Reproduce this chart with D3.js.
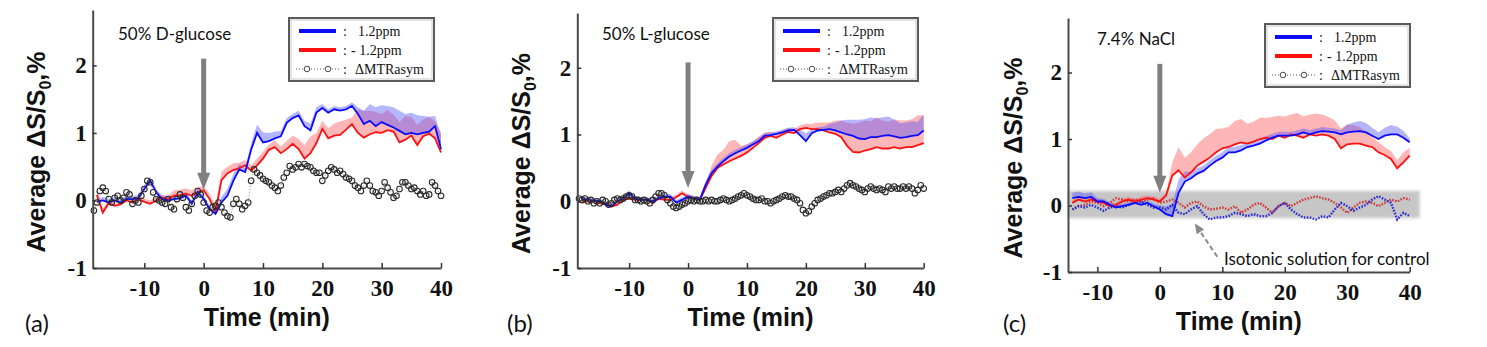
<!DOCTYPE html>
<html>
<head>
<meta charset="utf-8">
<script src="https://cdn.jsdelivr.net/npm/d3@7"></script>
<style>
  body { margin: 0; background: #fff; }
  svg { display: block; }
</style>
</head>
<body>
<svg id="chart"></svg>
<script>
// sampling grids (minutes)
const minutesAB = d3.range(-18, 41);
const minutesC = d3.range(-14, 41);
const circleMinutes = d3.range(-18.5, 40.5, 0.5);

const xTicks = [-10, 0, 10, 20, 30, 40];
const yTicks = [-1, 0, 1, 2];

// (a) 50% D-glucose
const dGlucPos = [-0.02, 0.0, -0.03, 0.0, -0.03, 0.02, 0.02, 0.03, 0.17, 0.29,
  0.12, 0.02, 0.0, 0.02, 0.03, 0.07, -0.05, 0.12, 0.02, -0.13,
  -0.2, -0.03, 0.07, 0.29, 0.46, 0.42, 0.75, 1.0, 0.86, 0.88,
  0.92, 0.95, 1.15, 1.22, 1.26, 1.1, 1.04, 1.3, 1.37, 1.3,
  1.35, 1.33, 1.35, 1.4, 1.28, 1.13, 1.18, 1.1, 1.16, 1.12,
  1.08, 1.03, 0.98, 1.0, 0.98, 1.0, 1.02, 1.1, 0.76];
const dGlucPosErr = [0.05, 0.05, 0.05, 0.05, 0.05, 0.05, 0.05, 0.05, 0.06, 0.06,
  0.05, 0.05, 0.05, 0.05, 0.05, 0.05, 0.05, 0.06,
  0.06, 0.05, 0.06, 0.08, 0.1, 0.1, 0.08, 0.06,
  0.1, 0.12, 0.15, 0.12, 0.1,
  0.08, 0.07, 0.06, 0.07, 0.08, 0.1, 0.08,
  0.06, 0.05, 0.05, 0.05, 0.05, 0.05,
  0.1, 0.2, 0.25, 0.28, 0.25, 0.28, 0.3, 0.3, 0.3, 0.3, 0.28, 0.25, 0.22, 0.15, 0.2];
const dGlucNeg = [0.08, -0.18, -0.04, -0.08, -0.06, 0.0, -0.03, 0.02, -0.02, -0.05,
  0.0, 0.04, 0.02, 0.07, 0.08, 0.1, 0.07, 0.12, 0.15, 0.02,
  -0.17, 0.3, 0.4, 0.45, 0.48, 0.52, 0.44, 0.52, 0.62, 0.75,
  0.79, 0.7, 0.76, 0.84, 0.76, 0.62, 0.7, 0.85, 1.06, 0.92,
  0.96, 0.97, 1.05, 1.13, 1.0, 0.93, 0.98, 1.01, 1.0, 1.04,
  1.02, 0.86, 0.9, 0.96, 0.82, 0.95, 0.99, 0.92, 0.71];
const dGlucNegErr = [0.08, 0.06, 0.05, 0.05, 0.05, 0.05, 0.05, 0.05, 0.05, 0.05,
  0.05, 0.05, 0.05, 0.08, 0.08, 0.08, 0.08, 0.08,
  0.06, 0.08, 0.1, 0.12, 0.1, 0.1, 0.08, 0.08,
  0.08, 0.1, 0.1, 0.08, 0.1,
  0.1, 0.12, 0.12, 0.15, 0.2, 0.25, 0.15,
  0.12, 0.15, 0.18, 0.2, 0.15, 0.1,
  0.35, 0.4, 0.35, 0.3, 0.28, 0.3, 0.25, 0.3, 0.35, 0.28, 0.3, 0.25, 0.25, 0.25, 0.3];
const dGlucAsym = [-0.15, -0.03, 0.14, 0.19, 0.14, 0.02, -0.03, 0.04, 0.07, 0,
  0.04, 0.12, 0.09, -0.05, 0, -0.03, 0.07, 0.17, 0.29, 0.27,
  0.12, 0.02, 0, -0.03, -0.05, 0.02, -0.1, -0.13, 0.02, 0.09,
  0.04, -0.1, -0.15, -0.05, 0.07, 0.14, 0.09, -0.03, -0.15, -0.18,
  -0.1, -0.08, -0.03, -0.1, -0.18, -0.23, -0.25, -0.05, 0.02, -0.05,
  -0.13, -0.08, -0.03, 0.29, 0.46, 0.41, 0.37, 0.32, 0.29, 0.27,
  0.22, 0.19, 0.14, 0.22, 0.34, 0.41, 0.51, 0.46, 0.49, 0.54,
  0.49, 0.54, 0.51, 0.49, 0.44, 0.41, 0.41, 0.29, 0.37, 0.44,
  0.49, 0.46, 0.41, 0.44, 0.39, 0.34, 0.32, 0.29, 0.22, 0.19,
  0.14, 0.22, 0.29, 0.22, 0.14, 0.12, 0.07, 0.14, 0.27, 0.19,
  0.12, 0.04, 0.07, 0.17, 0.27, 0.27, 0.22, 0.17, 0.19, 0.14,
  0.09, 0.14, 0.07, 0.09, 0.27, 0.22, 0.14, 0.07];

// (b) 50% L-glucose
const lGlucPos = [0.03, 0.02, 0.01, 0, -0.05, -0.08, 0, 0.04, 0.12, 0.04,
  0.02, 0.02, 0, 0.04, 0.07, 0.07, -0.02, 0.02, 0.07, 0.04,
  0.02, 0.25, 0.42, 0.52, 0.6, 0.67, 0.72, 0.76, 0.8, 0.85,
  0.9, 0.98, 0.99, 1.01, 1.03, 1.06, 1.07, 0.99, 0.9, 1.02,
  1.06, 1.07, 1.08, 1.06, 1.03, 1.0, 0.98, 0.94, 0.93, 0.96,
  0.96, 0.98, 0.99, 0.97, 0.95, 0.96, 0.98, 0.99, 1.06];
const lGlucPosErr = [0.04, 0.04, 0.04, 0.04, 0.04, 0.04, 0.04, 0.04, 0.04, 0.04,
  0.04, 0.04, 0.04, 0.04, 0.04, 0.04, 0.04, 0.04, 0.04, 0.04, 0.04,
  0.05, 0.05, 0.05, 0.05, 0.05, 0.05, 0.05, 0.05, 0.05, 0.05,
  0.04, 0.04, 0.04, 0.04, 0.04, 0.04,
  0.08, 0.12, 0.06, 0.05, 0.05, 0.08, 0.12,
  0.18, 0.22, 0.24, 0.28, 0.3, 0.3, 0.28, 0.28, 0.28, 0.25, 0.22, 0.22, 0.22, 0.2, 0.24];
const lGlucNeg = [-0.02, 0, 0, -0.03, -0.05, -0.08, -0.05, 0.02, 0.04, 0.02,
  0.02, 0.02, -0.03, 0.04, 0.02, 0.02, 0.06, 0.12, 0.06, 0.04,
  0.02, 0.2, 0.38, 0.5, 0.55, 0.6, 0.64, 0.68, 0.73, 0.8,
  0.87, 0.95, 0.98, 0.95, 1.0, 1.04, 1.02, 1.08, 1.1, 1.08,
  1.08, 1.06, 1.03, 1.01, 0.96, 0.83, 0.74, 0.73, 0.76, 0.78,
  0.81, 0.79, 0.79, 0.81, 0.79, 0.81, 0.81, 0.84, 0.87];
const lGlucNegErr = [0.04, 0.04, 0.04, 0.04, 0.04, 0.04, 0.04, 0.04, 0.04, 0.04,
  0.04, 0.04, 0.04, 0.04, 0.04, 0.04, 0.04, 0.04, 0.04, 0.04, 0.04,
  0.08, 0.15, 0.2, 0.22, 0.3, 0.28, 0.15, 0.12, 0.1, 0.1, 0.08,
  0.06, 0.06, 0.06, 0.06, 0.06,
  0.06, 0.06, 0.08, 0.1, 0.12, 0.15, 0.2,
  0.25, 0.35, 0.42, 0.45, 0.45, 0.42, 0.45, 0.42, 0.4, 0.42, 0.42, 0.4, 0.42, 0.45, 0.42];
const lGlucAsym = [0.04, 0.02, 0.04, 0, 0.02, -0.03, 0, -0.03, 0.02, 0,
  -0.05, -0.03, 0.02, 0.04, 0.02, 0.04, 0.07, 0.09, 0.07, 0.02,
  0.02, 0, 0.02, 0, -0.03, 0.02, 0.07, 0.12, 0.12, 0.09,
  0.02, -0.03, -0.08, -0.1, -0.08, -0.05, -0.03, 0, 0.02, 0,
  0.02, 0, 0, 0.02, 0, 0.02, 0, 0, 0.02, 0.04,
  0.02, 0, 0.02, 0.04, 0.07, 0.09, 0.12, 0.09, 0.07, 0.04,
  0.02, 0.02, 0.04, 0, 0, -0.03, 0, 0.02, 0.04, 0.07,
  0.09, 0.07, 0.07, 0.04, 0.02, -0.03, -0.13, -0.18, -0.15, -0.08,
  -0.03, 0.02, 0.04, 0.07, 0.09, 0.12, 0.12, 0.14, 0.17, 0.14,
  0.19, 0.24, 0.27, 0.24, 0.22, 0.19, 0.17, 0.14, 0.19, 0.22,
  0.19, 0.17, 0.19, 0.17, 0.14, 0.22, 0.19, 0.22, 0.19, 0.19,
  0.22, 0.19, 0.22, 0.19, 0.12, 0.17, 0.24, 0.19];

// (c) 7.4% NaCl, with isotonic control (dotted)
const naclPos = [0.11, 0.13, 0.11, 0.13, 0.06, 0.06, 0.01, -0.03, -0.01, 0.01,
  0.04, 0.01, 0.04, -0.01, -0.06, -0.13, -0.16, 0.19, 0.36, 0.41,
  0.48, 0.52, 0.6, 0.67, 0.72, 0.8, 0.8, 0.83, 0.88, 0.9,
  0.93, 0.98, 1.02, 1.05, 1.05, 1.05, 1.07, 1.1, 1.07, 1.1,
  1.12, 1.11, 1.1, 1.07, 1.1, 1.11, 1.12, 1.1, 1.05, 1.0,
  1.05, 1.07, 1.07, 1.02, 0.95];
const naclPosErr = [0.08, 0.08, 0.07, 0.07, 0.05,
  0.04, 0.04, 0.04, 0.04, 0.04, 0.04, 0.04, 0.04, 0.04,
  0.06, 0.12, 0.18, 0.2, 0.15, 0.1,
  0.08, 0.08, 0.08, 0.08, 0.08, 0.08, 0.08, 0.08,
  0.06, 0.06, 0.06, 0.06, 0.06, 0.06, 0.06, 0.06, 0.06, 0.06, 0.06, 0.06, 0.06, 0.06, 0.06, 0.06,
  0.12, 0.14, 0.15, 0.14, 0.12, 0.1, 0.12, 0.14, 0.12, 0.1, 0.06];
const naclNeg = [0.04, 0.09, 0.06, 0.09, 0.06, 0.04, -0.01, 0.01, 0.06, 0.09,
  0.06, 0.09, 0.11, 0.09, 0.06, 0.15, 0.45, 0.53, 0.42, 0.5,
  0.6, 0.66, 0.72, 0.8, 0.86, 0.88, 0.92, 0.95, 0.93, 0.96,
  1.0, 1.02, 1.0, 1.05, 1.02, 1.07, 1.05, 1.02, 1.07, 1.05,
  1.07, 1.05, 1.0, 0.86, 0.92, 0.93, 0.93, 0.9, 0.88, 0.8,
  0.76, 0.7, 0.56, 0.65, 0.75];
const naclNegErr = [0.04, 0.04, 0.04, 0.04, 0.04, 0.04, 0.04, 0.04, 0.04, 0.04, 0.04, 0.04, 0.04, 0.04, 0.04, 0.04,
  0.2, 0.35, 0.3, 0.3, 0.32, 0.35, 0.35, 0.35, 0.3, 0.3, 0.35, 0.35, 0.3,
  0.3, 0.32, 0.3, 0.33, 0.3, 0.32, 0.3, 0.34, 0.32, 0.3, 0.33, 0.3, 0.28,
  0.28, 0.3, 0.3, 0.28, 0.25, 0.2, 0.15, 0.15, 0.12, 0.12, 0.12, 0.15, 0.12];
const isoPos = [-0.06, -0.01, -0.03, 0.01, -0.03, -0.08, -0.03, -0.01, -0.03, 0.01,
  0.04, 0.06, 0.01, -0.03, -0.03, -0.06, 0.01, -0.11, -0.13, -0.06,
  -0.01, -0.13, -0.21, -0.18, -0.18, -0.16, -0.11, -0.13, -0.16, -0.13,
  -0.16, -0.16, -0.11, -0.01, 0.04, -0.06, -0.13, -0.18, -0.18, -0.21,
  -0.16, -0.18, -0.06, 0.04, -0.01, -0.08, -0.03, 0.01, 0.09, 0.14,
  0.09, 0.04, -0.21, -0.11, -0.16];
const isoNeg = [-0.06, -0.01, 0.01, 0.06, 0.04, -0.01, 0.04, 0.11, 0.09, 0.06,
  0.09, 0.06, 0.09, 0.11, 0.04, 0.06, 0.09, 0.04, -0.03, 0.04,
  0.06, -0.01, -0.06, -0.05, -0.03, -0.06, -0.01, -0.11, -0.06, 0.01,
  0.04, -0.03, -0.11, -0.01, 0.04, -0.01, 0.04, 0.09, 0.11, 0.14,
  0.11, 0.09, 0.04, -0.03, -0.11, -0.03, 0.04, 0.06, 0.04, -0.01,
  0.04, 0.09, 0.06, 0.11, 0.09];

const legendLabels = ["1.2ppm", "- 1.2ppm", "\u0394MTRasym"];

const blue = "#0a0aff", red = "#ff1010";
const blueBand = "rgba(80,80,255,0.42)", redBand = "rgba(255,80,80,0.42)";

const panels = [
  { tag: "(a)", note: "50% D-glucose", times: minutesAB, pos: dGlucPos, posErr: dGlucPosErr,
    neg: dGlucNeg, negErr: dGlucNegErr, asym: dGlucAsym,
    left: 92.7, right: 441, top: 10, bottom: 268, x0: -18.7,
    yLabelX: 45, tagX: 25, noteX: 118, noteY: 40, legend: [289, 18], arrowY: [2.1, 0.16] },
  { tag: "(b)", note: "50% L-glucose", times: minutesAB, pos: lGlucPos, posErr: lGlucPosErr,
    neg: lGlucNeg, negErr: lGlucNegErr, asym: lGlucAsym,
    left: 577.3, right: 923.7, top: 13, bottom: 268, x0: -18.8,
    yLabelX: 530, tagX: 507, noteX: 602, noteY: 40, legend: [773, 18], arrowY: [2.08, 0.2] },
  { tag: "(c)", note: "7.4% NaCl", times: minutesC, pos: naclPos, posErr: naclPosErr,
    neg: naclNeg, negErr: naclNegErr, isoPos: isoPos, isoNeg: isoNeg,
    left: 1068, right: 1409.7, top: 18, bottom: 272, x0: -14.7,
    yLabelX: 1022, tagX: 1003, noteX: 1097, noteY: 45, legend: [1265, 24], arrowY: [2.13, 0.19] }
];

const svg = d3.select("#chart").attr("width", 1487).attr("height", 347);

const defs = svg.append("defs");
defs.append("filter").attr("id", "soft")
  .attr("x", "-5%").attr("y", "-30%").attr("width", "110%").attr("height", "160%")
  .append("feGaussianBlur").attr("stdDeviation", 1.6);

function drawPanel(p) {
  const x = d3.scaleLinear().domain([p.x0, 40]).range([p.left, p.right]);
  const y = d3.scaleLinear().domain([-1, 2.82]).range([p.bottom, p.top]);
  const g = svg.append("g");

  const rows = (vals, err) => p.times.map((t, i) => ({ t, v: vals[i], e: err ? err[i] : 0 }));
  const line = d3.line().x(d => x(d.t)).y(d => y(d.v));
  const area = d3.area().x(d => x(d.t)).y0(d => y(d.v)).y1(d => y(d.v + d.e));

  if (p.isoPos) {
    g.append("rect")
      .attr("x", x(p.x0)).attr("width", x(41.6) - x(p.x0))
      .attr("y", y(0.22)).attr("height", y(-0.19) - y(0.22))
      .attr("fill", "#bdbdbd").attr("opacity", 0.85).attr("filter", "url(#soft)");
  }

  g.append("path").datum(rows(p.neg, p.negErr)).attr("d", area).attr("fill", redBand);
  g.append("path").datum(rows(p.pos, p.posErr)).attr("d", area).attr("fill", blueBand);

  if (p.isoPos) {
    g.append("path").datum(rows(p.isoNeg)).attr("d", line)
      .attr("fill", "none").attr("stroke", "#d03a3a").attr("stroke-width", 2.4)
      .attr("stroke-dasharray", "1.6,1.4");
    g.append("path").datum(rows(p.isoPos)).attr("d", line)
      .attr("fill", "none").attr("stroke", "#2a2ad8").attr("stroke-width", 2.4)
      .attr("stroke-dasharray", "1.6,1.4");
  }

  g.append("path").datum(rows(p.neg)).attr("d", line)
    .attr("fill", "none").attr("stroke", red).attr("stroke-width", 1.8);
  g.append("path").datum(rows(p.pos)).attr("d", line)
    .attr("fill", "none").attr("stroke", blue).attr("stroke-width", 1.8);

  if (p.asym) {
    const pts = circleMinutes.map((t, i) => ({ t, v: p.asym[i] }));
    g.append("path").datum(pts).attr("d", line)
      .attr("fill", "none").attr("stroke", "#666").attr("stroke-width", 0.8)
      .attr("stroke-dasharray", "1,2");
    g.selectAll("circle.asym").data(pts).join("circle")
      .attr("class", "asym")
      .attr("cx", d => x(d.t)).attr("cy", d => y(d.v)).attr("r", 2.8)
      .attr("fill", "none").attr("stroke", "#2a2a2a").attr("stroke-width", 1.1);
  }

  // axes
  const xAxis = d3.axisBottom(x).tickValues(xTicks).tickSizeInner(-5).tickSizeOuter(0).tickPadding(12);
  const yAxis = d3.axisLeft(y).tickValues(yTicks).tickSizeInner(-4).tickSizeOuter(0).tickPadding(6)
    .tickFormat(d3.format("d"));
  const styleAxis = sel => {
    sel.select(".domain").attr("stroke", "#4a4a4a").attr("stroke-width", 2);
    sel.selectAll(".tick line").attr("stroke", "#333").attr("stroke-width", 1.5);
    sel.selectAll(".tick text")
      .attr("font-family", "'Liberation Serif', 'Times New Roman', serif")
      .attr("font-weight", "bold").attr("font-size", 23).attr("fill", "#111");
  };
  g.append("g").attr("transform", `translate(0,${p.bottom})`).call(xAxis).call(styleAxis)
    .selectAll(".tick text").text(d => d < 0 ? "-" + Math.abs(d) : d);
  g.append("g").attr("transform", `translate(${p.left},0)`).call(yAxis).call(styleAxis)
    .selectAll(".tick text").text(d => d < 0 ? "-" + Math.abs(d) : d);

  // axis titles
  g.append("text")
    .attr("x", (p.left + p.right) / 2).attr("y", p.bottom + 58)
    .attr("text-anchor", "middle")
    .attr("font-family", "'Liberation Sans', Arial, sans-serif").attr("font-weight", "bold")
    .attr("font-size", 25).attr("fill", "#111")
    .text("Time (min)");

  const yl = g.append("text")
    .attr("transform", `translate(${p.yLabelX},${(p.top + p.bottom) / 2 + 13}) rotate(-90)`)
    .attr("text-anchor", "middle")
    .attr("font-family", "'Liberation Sans', Arial, sans-serif").attr("font-weight", "bold")
    .attr("font-size", 25).attr("fill", "#111");
  yl.append("tspan").text("Average \u0394S/S");
  yl.append("tspan").attr("dy", 6).attr("font-size", 16).text("0");
  yl.append("tspan").attr("dy", -6).text(",%");

  // panel tag and treatment note
  g.append("text").attr("x", p.tagX).attr("y", 332)
    .attr("font-family", "Lato, 'Open Sans', sans-serif").attr("font-size", 24).attr("fill", "#111")
    .text(p.tag);
  g.append("text").attr("x", p.noteX).attr("y", p.noteY)
    .attr("font-family", "Lato, 'Open Sans', sans-serif").attr("font-size", 17).attr("fill", "#111")
    .text(p.note);

  // injection arrow
  const ax = x(0), aTop = y(p.arrowY[0]), aTip = y(p.arrowY[1]);
  g.append("line").attr("x1", ax).attr("x2", ax).attr("y1", aTop).attr("y2", aTip - 14)
    .attr("stroke", "#808080").attr("stroke-width", 5);
  g.append("path")
    .attr("d", `M${ax - 6.5},${aTip - 17}L${ax + 6.5},${aTip - 17}L${ax},${aTip}Z`)
    .attr("fill", "#808080");

  // legend
  const [lx, ly] = p.legend;
  const lg = g.append("g").attr("transform", `translate(${lx},${ly})`);
  lg.append("rect").attr("width", 145).attr("height", 63)
    .attr("fill", "#fff").attr("stroke", "#5a5a5a").attr("stroke-width", 2);
  lg.append("rect").attr("x", 2).attr("y", 2).attr("width", 141).attr("height", 59)
    .attr("fill", "none").attr("stroke", "#bbb").attr("stroke-width", 0.8);
  const rowY = [13, 32, 51];
  [blue, red].forEach((c, i) => {
    lg.append("line").attr("x1", 10).attr("x2", 47).attr("y1", rowY[i]).attr("y2", rowY[i])
      .attr("stroke", c).attr("stroke-width", 4);
  });
  lg.append("line").attr("x1", 7).attr("x2", 50).attr("y1", rowY[2]).attr("y2", rowY[2])
    .attr("stroke", "#444").attr("stroke-width", 0.9).attr("stroke-dasharray", "1,2");
  [18, 39].forEach(cx => lg.append("circle").attr("cx", cx).attr("cy", rowY[2]).attr("r", 2.8)
    .attr("fill", "#fff").attr("stroke", "#333").attr("stroke-width", 0.9));
  const labelX = [69, 62, 66];
  legendLabels.forEach((t, i) => {
    lg.append("text").attr("x", 54).attr("y", rowY[i] + 5)
      .attr("font-family", "'Liberation Serif', serif").attr("font-size", 14).attr("fill", "#111")
      .text(":");
    lg.append("text").attr("x", labelX[i]).attr("y", rowY[i] + 5)
      .attr("font-family", "'Liberation Serif', serif").attr("font-size", 14).attr("fill", "#111")
      .text(t);
  });

  if (p.isoPos) {
    const tx = x(9.2), ty = y(-0.77), hx = x(5.6), hy = y(-0.27);
    const ang = Math.atan2(hy - ty, hx - tx);
    g.append("line").attr("x1", tx).attr("y1", ty)
      .attr("x2", hx - 9 * Math.cos(ang)).attr("y2", hy - 9 * Math.sin(ang))
      .attr("stroke", "#8a8a8a").attr("stroke-width", 2).attr("stroke-dasharray", "5,3");
    const perp = ang + Math.PI / 2;
    const bx = hx - 10 * Math.cos(ang), by = hy - 10 * Math.sin(ang);
    g.append("path")
      .attr("d", `M${hx},${hy}L${bx + 4.5 * Math.cos(perp)},${by + 4.5 * Math.sin(perp)}L${bx - 4.5 * Math.cos(perp)},${by - 4.5 * Math.sin(perp)}Z`)
      .attr("fill", "#8a8a8a");
    g.append("text").attr("x", 1224).attr("y", 265)
      .attr("font-family", "Lato, 'Open Sans', sans-serif").attr("font-size", 17).attr("fill", "#111")
      .text("Isotonic solution for control");
  }
}

panels.forEach(drawPanel);
</script>
</body>
</html>
